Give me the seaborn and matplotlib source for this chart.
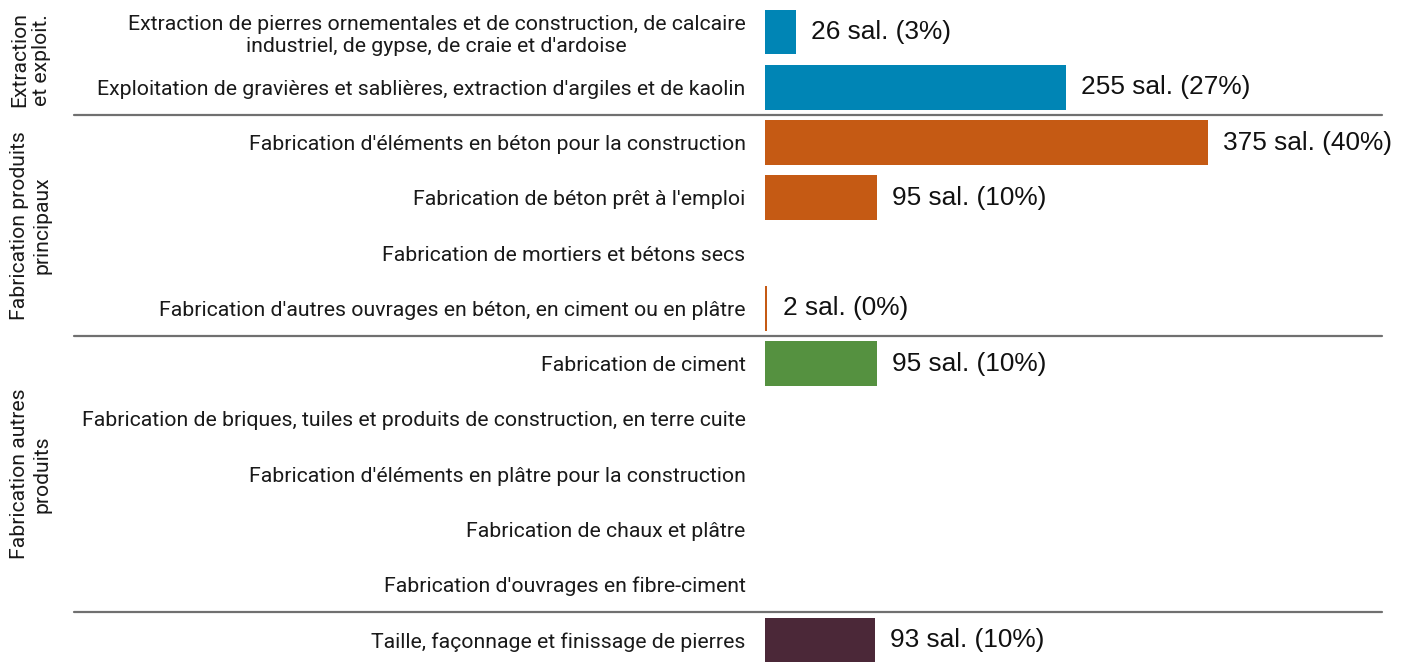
import matplotlib
matplotlib.use("Agg")
import matplotlib.pyplot as plt
import seaborn as sns
import pandas as pd

categories = [
    "Extraction de pierres ornementales et de construction, de calcaire\nindustriel, de gypse, de craie et d'ardoise",
    "Exploitation de gravières et sablières, extraction d'argiles et de kaolin",
    "Fabrication d'éléments en béton pour la construction",
    "Fabrication de béton prêt à l'emploi",
    "Fabrication de mortiers et bétons secs",
    "Fabrication d'autres ouvrages en béton, en ciment ou en plâtre",
    "Fabrication de ciment",
    "Fabrication de briques, tuiles et produits de construction, en terre cuite",
    "Fabrication d'éléments en plâtre pour la construction",
    "Fabrication de chaux et plâtre",
    "Fabrication d'ouvrages en fibre-ciment",
    "Taille, façonnage et finissage de pierres",
]
salaries = [26, 255, 375, 95, 0, 2, 95, 0, 0, 0, 0, 93]
percents = [3, 27, 40, 10, 0, 0, 10, 0, 0, 0, 0, 10]
groups = ["ext", "ext", "prin", "prin", "prin", "prin",
          "autre", "autre", "autre", "autre", "autre", "taille"]
group_names = ["ext", "prin", "autre", "taille"]
group_labels = ["Extraction\net exploit.", "Fabrication produits\nprincipaux",
                "Fabrication autres\nproduits", ""]
group_colors = ["#0085B5", "#C55A14", "#559140", "#4B2838"]

df = pd.DataFrame({"cat": categories, "val": salaries, "grp": groups})

sns.set_theme(style="white")
plt.rcParams["font.family"] = ["Roboto", "DejaVu Sans"]

fig = plt.figure(figsize=(14.08, 6.62), dpi=100)
ax = fig.add_axes([765 / 1408, 0, 643 / 1408, 1])

sns.barplot(data=df, y="cat", x="val", hue="grp", order=categories,
            hue_order=group_names, palette=group_colors, dodge=False,
            saturation=1, width=0.81, linewidth=0, orient="h",
            legend=False, ax=ax)

ax.set_xlim(0, 643 / 1.181)
ax.set_ylim(11.4, -0.58)
ax.set_xlabel("")
ax.set_ylabel("")
ax.set_xticks([])
for s in ax.spines.values():
    s.set_visible(False)
ax.tick_params(axis="y", length=0, pad=14, labelsize=15.3, labelcolor="#1a1a1a")
for t in ax.get_yticklabels():
    t.set_multialignment("center")

for i, (v, p) in enumerate(zip(salaries, percents)):
    if v > 0:
        ax.annotate(f"{v} sal. ({p}%)", xy=(v, i), xytext=(11, 0),
                    textcoords="offset points", va="center", ha="left",
                    fontsize=18.9, family=["Liberation Sans", "DejaVu Sans"],
                    color="#111111")

# separators between groups
tr = ax.get_yaxis_transform()
bounds = []
for k in range(1, len(groups)):
    if groups[k] != groups[k - 1]:
        bounds.append(k - 0.5)
for b in bounds:
    ax.plot([-1.075, 0.96], [b, b], transform=tr, clip_on=False,
            color="#707070", lw=1.6)

# group labels
for g, lab in zip(group_names, group_labels):
    idx = [i for i, gg in enumerate(groups) if gg == g]
    if lab:
        yc = (idx[0] + idx[-1]) / 2
        ax.text(-1.142, yc, lab, transform=tr, rotation=90, ha="center",
                va="center", multialignment="center", fontsize=15.2,
                color="#1a1a1a", clip_on=False)

fig.savefig("out.png", dpi=100)
